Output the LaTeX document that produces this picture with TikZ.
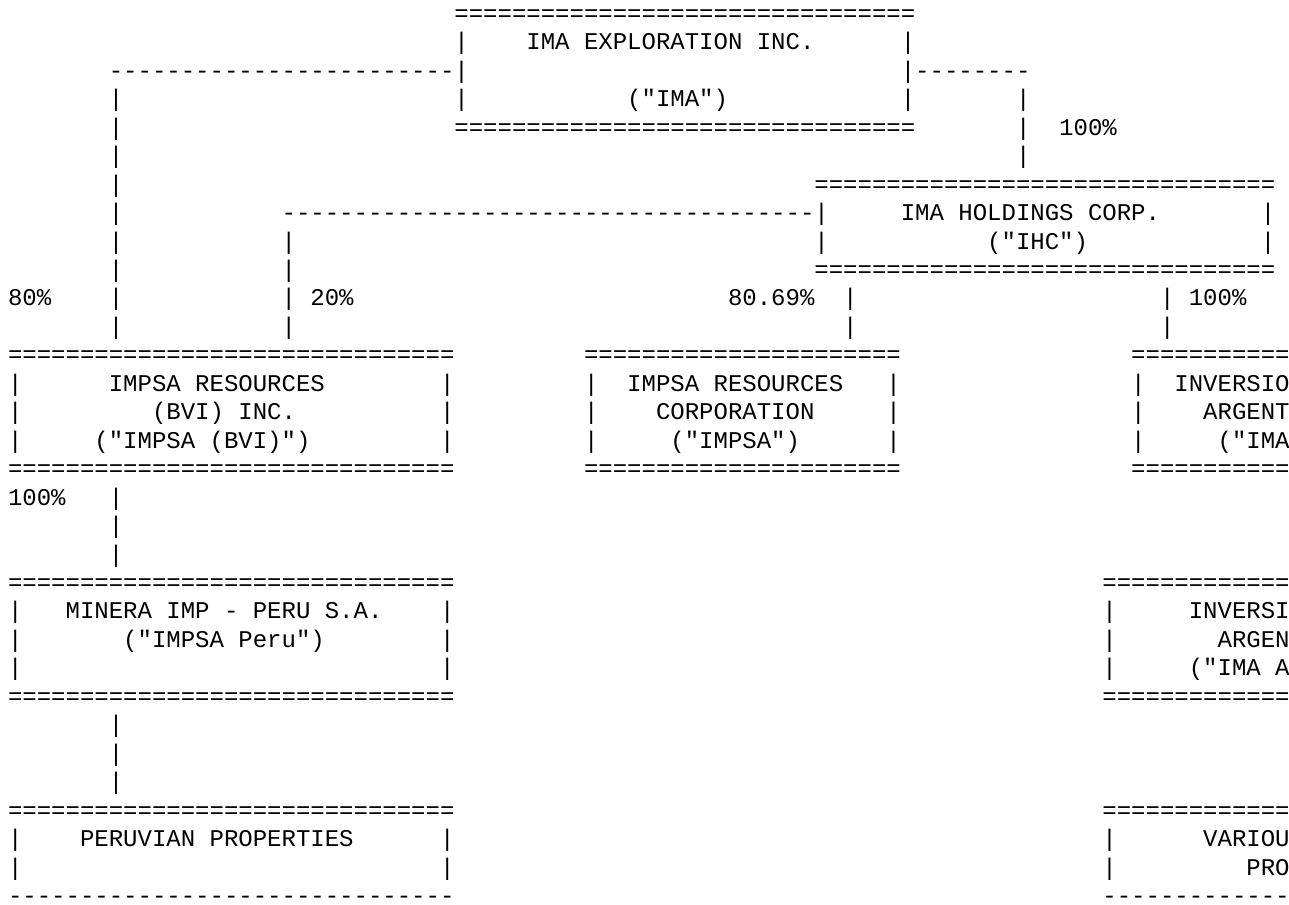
\documentclass[tikz,border=0pt]{standalone}
\usepackage{fontspec}
\setmonofont{Liberation Mono}
\newcommand\rep[2]{\foreach\k in {1,...,#1}{#2}}

\begin{document}
\begin{tikzpicture}[x=10.8pt, y=-21.3375pt,
	txt/.style={anchor=base west, inner sep=0pt, outer sep=0pt, text depth=0pt, font=\ttfamily\fontsize{18pt}{21pt}\selectfont}]
	\fill[white] (0pt,0pt) rectangle (966.75pt,-678.75pt);
	\useasboundingbox (0pt,0pt) rectangle (966.75pt,-678.75pt);
	\clip (0pt,0pt) rectangle (966.75pt,-678.75pt);
	\begin{scope}[shift={(6pt,-16.125pt)}, every node/.style={txt}]
	% IMA Exploration Inc.
	\node (imatop) at (31,0) {\rep{32}{=}};
	\foreach \r in {1,2,3} {
		\node (imal\r) at (31,\r) {|};
		\node (imar\r) at (62,\r) {|};
	}
	\node (imaname) at (36,1) {IMA EXPLORATION INC.};
	\node (imashort) at (43,3) {("IMA")};
	\node (imabot) at (31,4) {\rep{32}{=}};
	% IMA -> IMPSA (BVI)
	\node (bvilink) at (7,2) {\rep{24}{-}};
	\foreach \r in {3,...,11} \node (bvi\r) at (7,\r) {|};
	\node (pbvi) at (0,10) {80\%};
	% IMA -> IHC
	\node (ihclink) at (63,2) {\rep{8}{-}};
	\foreach \r in {3,4,5} \node (ihc\r) at (70,\r) {|};
	\node (pihc) at (73,4) {100\%};
	% IMA Holdings Corp.
	\node (ihctop) at (56,6) {\rep{32}{=}};
	\foreach \r in {7,8} {
		\node (ihcl\r) at (56,\r) {|};
		\node (ihcr\r) at (87,\r) {|};
	}
	\node (ihcname) at (62,7) {IMA HOLDINGS CORP.};
	\node (ihcshort) at (68,8) {("IHC")};
	\node (ihcbot) at (56,9) {\rep{32}{=}};
	% IHC -> subsidiaries
	\node (bvilinkb) at (19,7) {\rep{37}{-}};
	\foreach \r in {8,...,11} \node (bvib\r) at (19,\r) {|};
	\node (pbvib) at (21,10) {20\%};
	\foreach \r in {10,11} {
		\node (impsa\r) at (58,\r) {|};
		\node (arg\r) at (80,\r) {|};
	}
	\node (pimpsa) at (50,10) {80.69\%};
	\node (parg) at (82,10) {100\%};
	% IMPSA (BVI)
	\node (bvitop) at (0,12) {\rep{31}{=}};
	\foreach \r in {13,14,15} {
		\node (bvil\r) at (0,\r) {|};
		\node (bvir\r) at (30,\r) {|};
	}
	\node (bviname) at (7,13) {IMPSA RESOURCES};
	\node (bviname2) at (10,14) {(BVI) INC.};
	\node (bvishort) at (6,15) {("IMPSA (BVI)")};
	\node (bvibot) at (0,16) {\rep{31}{=}};
	% IMPSA Resources Corporation
	\node (impsatop) at (40,12) {\rep{22}{=}};
	\foreach \r in {13,14,15} {
		\node (impsal\r) at (40,\r) {|};
		\node (impsar\r) at (61,\r) {|};
	}
	\node (impsaname) at (43,13) {IMPSA RESOURCES};
	\node (impsaname2) at (45,14) {CORPORATION};
	\node (impsashort) at (46,15) {("IMPSA")};
	\node (impsabot) at (40,16) {\rep{22}{=}};
	% Inversiones (cut at the right edge)
	\node (invtop) at (78,12) {\rep{11}{=}};
	\foreach \r in {13,14,15} \node (invl\r) at (78,\r) {|};
	\node (invname) at (81,13) {INVERSIO};
	\node (invname2) at (83,14) {ARGENT};
	\node (invshort) at (84,15) {("IMA};
	\node (invbot) at (78,16) {\rep{11}{=}};
	% IMPSA (BVI) -> IMPSA Peru
	\node (pperu) at (0,17) {100\%};
	\foreach \r in {17,18,19} \node (peru\r) at (7,\r) {|};
	% Minera IMP - Peru
	\node (perutop) at (0,20) {\rep{31}{=}};
	\foreach \r in {21,22,23} {
		\node (perul\r) at (0,\r) {|};
		\node (perur\r) at (30,\r) {|};
	}
	\node (peruname) at (4,21) {MINERA IMP - PERU S.A.};
	\node (perushort) at (8,22) {("IMPSA Peru")};
	\node (perubot) at (0,24) {\rep{31}{=}};
	% second Inversiones box
	\node (inv2top) at (76,20) {\rep{13}{=}};
	\foreach \r in {21,22,23} \node (inv2l\r) at (76,\r) {|};
	\node (inv2name) at (82,21) {INVERSI};
	\node (inv2name2) at (84,22) {ARGEN};
	\node (inv2short) at (82,23) {("IMA A};
	\node (inv2bot) at (76,24) {\rep{13}{=}};
	% IMPSA Peru -> properties
	\foreach \r in {25,26,27} \node (prop\r) at (7,\r) {|};
	% Peruvian properties
	\node (proptop) at (0,28) {\rep{31}{=}};
	\foreach \r in {29,30} {
		\node (propl\r) at (0,\r) {|};
		\node (propr\r) at (30,\r) {|};
	}
	\node (propname) at (5,29) {PERUVIAN PROPERTIES};
	\node (propbot) at (0,31) {\rep{31}{-}};
	% various properties
	\node (vartop) at (76,28) {\rep{13}{=}};
	\foreach \r in {29,30} \node (varl\r) at (76,\r) {|};
	\node (varname) at (83,29) {VARIOU};
	\node (varname2) at (86,30) {PRO};
	\node (varbot) at (76,31) {\rep{13}{-}};
	\end{scope}
\end{tikzpicture}
\end{document}
